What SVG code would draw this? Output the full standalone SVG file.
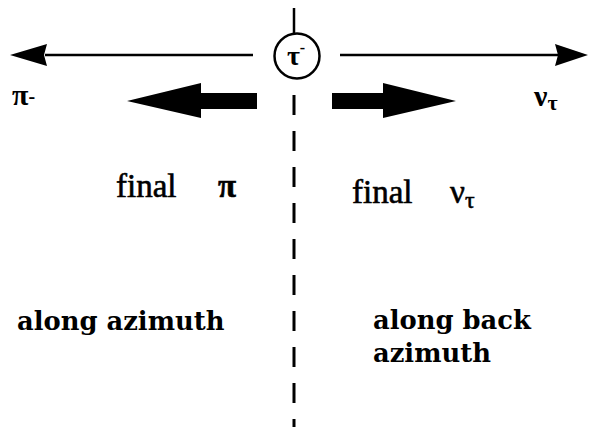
<svg xmlns="http://www.w3.org/2000/svg" width="590" height="427" viewBox="0 0 590 427">
<style>
.ln{stroke:#000;stroke-width:2.5;fill:none}
.fill{fill:#000;stroke:none}
.lbl{font-family:"Liberation Serif",serif;font-size:33px;fill:#000;stroke:#000;stroke-width:0.6}
.bold{font-family:"DejaVu Serif",serif;font-weight:bold;font-size:25.8px;fill:#000}
.gk{font-family:"Liberation Serif",serif;font-weight:bold;fill:#000}
</style>
<rect width="590" height="427" fill="#fff"/>
<g id="connectors">
  <line class="ln" x1="294" y1="8" x2="294" y2="33"/>
  <line class="ln" x1="294" y1="95" x2="294" y2="427" stroke-dasharray="20 16" style="stroke-width:3"/>
  <line class="ln" x1="45" y1="55" x2="253" y2="55"/>
  <polygon class="fill" points="10,55 47,44 44,55 47,66"/>
  <line class="ln" x1="340" y1="55" x2="560" y2="55"/>
  <polygon class="fill" points="588,55 555,44 558,55 555,66"/>
  <polygon class="fill" points="127,101 201,83 201,93 257,93 257,109 201,109 201,118"/>
  <polygon class="fill" points="332,93 383,93 383,83 456,101 383,118 383,109 332,109"/>
</g>
<g id="tau">
  <circle class="ln" cx="297" cy="56" r="22.5"/>
  <text class="gk" x="296" y="65" font-size="28" text-anchor="middle">τ<tspan font-size="16" dy="-12">-</tspan></text>
</g>
<g id="pi-label">
  <text class="gk" x="12" y="105" font-size="30">π<tspan font-size="20" dy="-2">-</tspan></text>
</g>
<g id="nu-label">
  <text class="gk" x="534" y="106" font-size="30">ν<tspan font-size="22" dy="4">τ</tspan></text>
</g>
<g id="final-pi">
  <text class="lbl" x="116" y="197">final</text>
  <text class="lbl" x="218" y="197" font-weight="bold">π</text>
</g>
<g id="final-nu">
  <text class="lbl" x="352" y="203">final</text>
  <text class="lbl" x="450" y="203">ν<tspan font-size="24" dy="5">τ</tspan></text>
</g>
<g id="along-azimuth">
  <text class="bold" x="17" y="330">along azimuth</text>
</g>
<g id="along-back">
  <text class="bold" x="373" y="329">along back</text>
  <text class="bold" x="373" y="362">azimuth</text>
</g>
</svg>
